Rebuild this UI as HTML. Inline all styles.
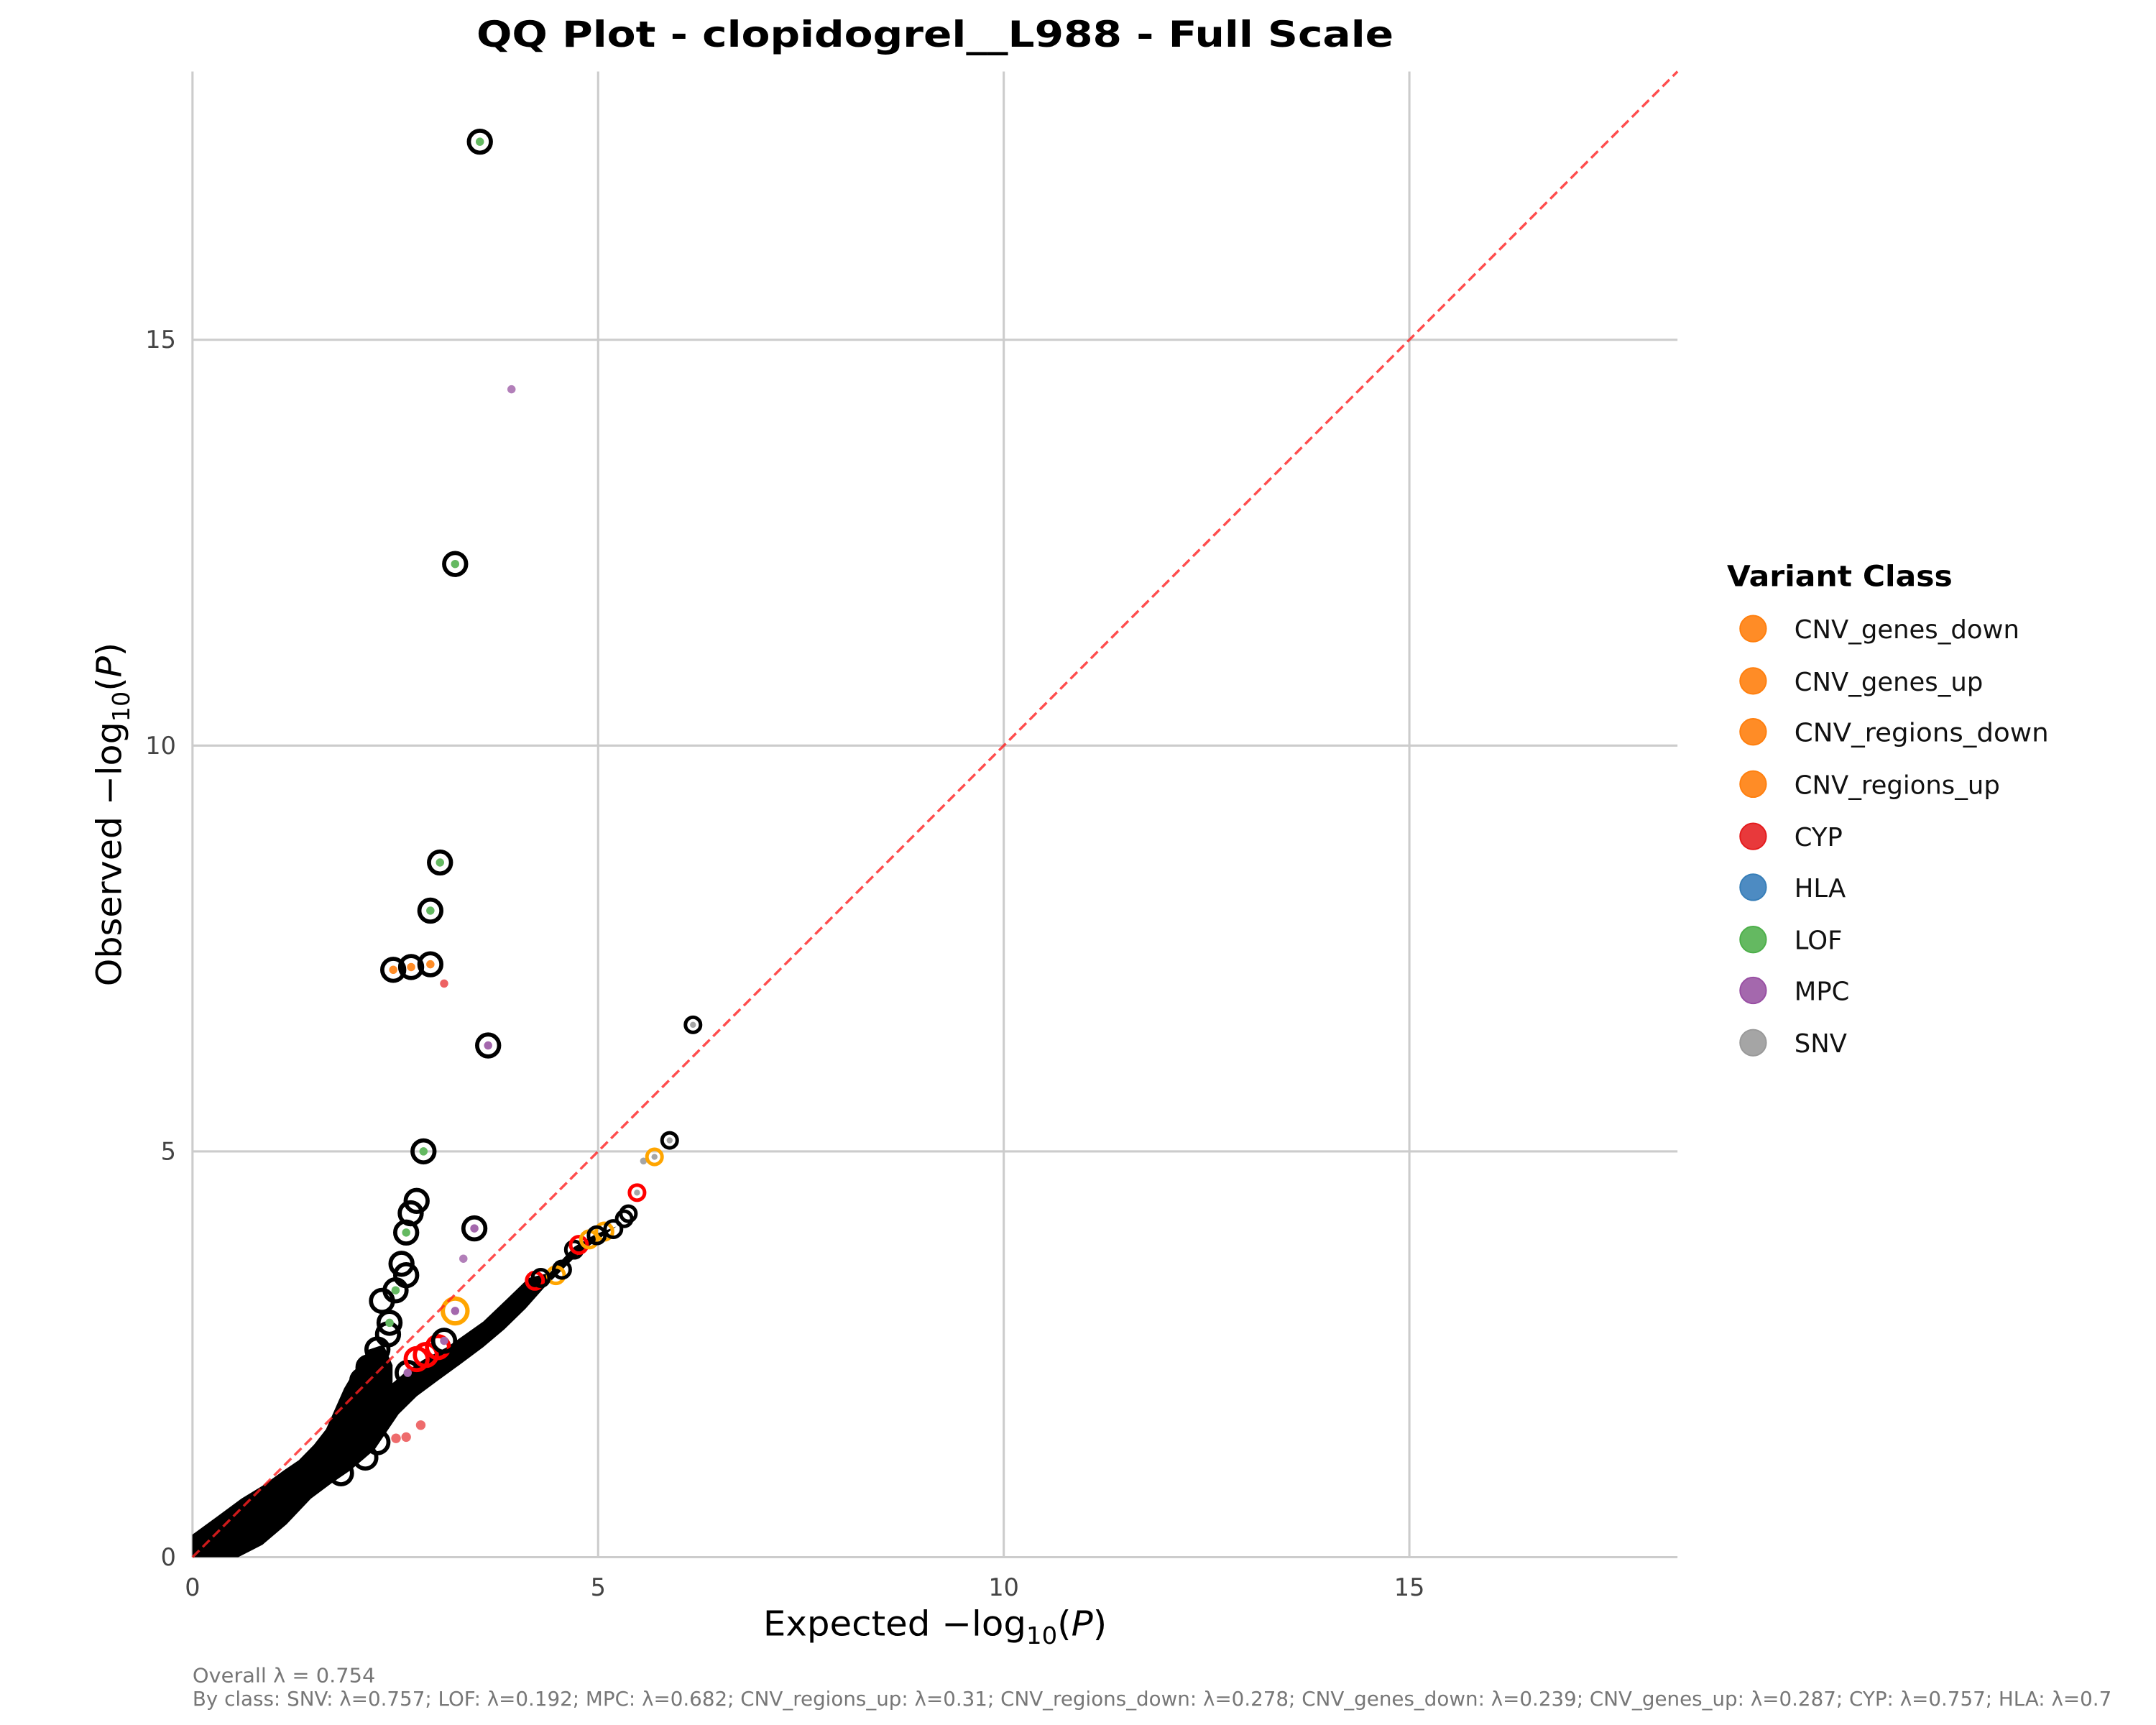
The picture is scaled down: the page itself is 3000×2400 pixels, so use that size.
<!DOCTYPE html>
<html><head><meta charset="utf-8"><style>html,body{margin:0;padding:0;background:#fff}svg{display:block}</style></head>
<body>
<svg width="3000" height="2400" viewBox="0 0 1568 1254" preserveAspectRatio="none" xmlns="http://www.w3.org/2000/svg" font-family="'DejaVu Sans','Liberation Sans',sans-serif">
<rect width="1568" height="1254" fill="#fff"/>
<!-- grid -->
<g stroke="#cccccc" stroke-width="1.6">
<line x1="435" y1="52" x2="435" y2="1132"/><line x1="730" y1="52" x2="730" y2="1132"/><line x1="1025" y1="52" x2="1025" y2="1132"/>
<line x1="140" y1="837" x2="1220" y2="837"/><line x1="140" y1="542" x2="1220" y2="542"/><line x1="140" y1="247" x2="1220" y2="247"/>
<line x1="140" y1="52" x2="140" y2="1132"/><line x1="140" y1="1132" x2="1220" y2="1132"/>
</g>
<!-- ticks -->
<g fill="#444" font-size="17.5">
<text x="128" y="1138" text-anchor="end">0</text><text x="128" y="843" text-anchor="end">5</text><text x="128" y="548" text-anchor="end">10</text><text x="128" y="253" text-anchor="end">15</text>
<text x="140" y="1160" text-anchor="middle">0</text><text x="435" y="1160" text-anchor="middle">5</text><text x="730" y="1160" text-anchor="middle">10</text><text x="1025" y="1160" text-anchor="middle">15</text>
</g>
<!-- blob -->
<polygon fill="#000" points="139.9,1132 173.3,1132 190.9,1123 208.5,1108 226.1,1089.5 241.5,1078 254.7,1069 272.3,1054 281.1,1041 289.9,1028 303.1,1015 318.5,1003.6 333.9,992.4 351.5,979.3 366.9,966.3 382.3,951.3 395.5,936.4 408.7,923.3 421.9,910.3 435.1,901 448.3,891.6 433,897.2 417.5,906.5 399.9,925.2 384.5,929 369.1,943.9 351.5,960.7 338.3,970 325.1,979.3 307.5,988.7 294.3,998 285.5,1005.5 285.5,992.4 278.9,977.5 267.9,981.2 259.1,994.3 250.3,1009.2 243.7,1024.1 237.1,1039 228.3,1050.3 217.3,1061.5 206.3,1069 190.9,1080.1 175.5,1089.5 157.9,1102.5 139.9,1115.6"/>
<!-- small dots -->
<g>
<circle cx="306" cy="1036" r="3.5" fill="#e8393b" opacity="0.75"/>
<circle cx="295.4" cy="1044.7" r="3.5" fill="#e8393b" opacity="0.75"/>
<circle cx="288" cy="1045.6" r="3.5" fill="#e8393b" opacity="0.75"/>
<circle cx="323" cy="715" r="3" fill="#e8393b" opacity="0.8"/>
<circle cx="372" cy="283" r="3" fill="#a468ad" opacity="0.85"/>
<circle cx="337" cy="915" r="3" fill="#a468ad" opacity="0.85"/>
<circle cx="468" cy="844" r="2.5" fill="#a5a5a5"/>
</g>
<!-- rings -->
<g fill="none" stroke="#000" stroke-width="3">
<circle cx="349" cy="103" r="8"/><circle cx="331" cy="410" r="8"/><circle cx="320" cy="627" r="8"/><circle cx="313" cy="662" r="8"/>
<circle cx="286" cy="705" r="8"/><circle cx="299" cy="703" r="8"/><circle cx="313" cy="701" r="8"/><circle cx="355" cy="760" r="8"/>
<circle cx="308" cy="837" r="8"/><circle cx="303" cy="873" r="8"/><circle cx="298.7" cy="882" r="8"/><circle cx="295.4" cy="896" r="8"/>
<circle cx="345" cy="893" r="8"/><circle cx="292" cy="918.7" r="8"/><circle cx="295.4" cy="927" r="8"/><circle cx="287.7" cy="938" r="8"/>
<circle cx="277.8" cy="945.7" r="8"/><circle cx="283.3" cy="961.6" r="8"/><circle cx="282.2" cy="970" r="8"/><circle cx="274.5" cy="981" r="8"/><circle cx="268" cy="994" r="8"/><circle cx="263.5" cy="1003.6" r="8"/>
<circle cx="274.5" cy="1048.4" r="8"/><circle cx="265.7" cy="1059.6" r="8"/><circle cx="248" cy="1071" r="8"/>
<circle cx="296.5" cy="998" r="8"/>
</g>
<g fill="none" stroke-width="3">
<circle cx="309.7" cy="985" r="8" stroke="#ff0000"/><circle cx="303" cy="988" r="8" stroke="#ff0000"/><circle cx="318.5" cy="979.3" r="8" stroke="#ff0000"/>
<circle cx="323" cy="974.7" r="8" stroke="#000"/>
</g>
<g fill="none" stroke-width="2.6">
<circle cx="389" cy="931" r="6" stroke="#ff0000"/>
<circle cx="404.3" cy="927" r="6" stroke="#ffa500"/>
<circle cx="393.3" cy="929" r="6" stroke="#000"/><circle cx="408.7" cy="923" r="6" stroke="#000"/>
<circle cx="417.5" cy="908.4" r="6" stroke="#000"/><circle cx="421" cy="905" r="6" stroke="#ff0000"/>
<circle cx="428.5" cy="901" r="6" stroke="#ffa500"/><circle cx="439.5" cy="895.3" r="6" stroke="#ffa500"/><circle cx="434" cy="898" r="6" stroke="#000"/>
<circle cx="446" cy="893.5" r="6" stroke="#000"/><circle cx="457" cy="882.3" r="5.5" stroke="#000"/><circle cx="454" cy="886" r="5.5" stroke="#000"/>
<circle cx="504" cy="745" r="5.5" stroke="#000"/><circle cx="487" cy="829" r="5.5" stroke="#000"/>
<circle cx="476" cy="841" r="5.5" stroke="#ffa500"/><circle cx="463.3" cy="867" r="5.5" stroke="#ff0000"/>
<circle cx="331" cy="953" r="9" stroke="#ffa500" stroke-width="3.2"/>
</g>
<g>
<circle cx="349" cy="103" r="3" fill="#64b961"/><circle cx="331" cy="410" r="3" fill="#64b961"/><circle cx="320" cy="627" r="3" fill="#64b961"/><circle cx="313" cy="662" r="3" fill="#64b961"/>
<circle cx="286" cy="705" r="3" fill="#ff8c26"/><circle cx="299" cy="703" r="3" fill="#ff8c26"/><circle cx="313" cy="701" r="3" fill="#ff8c26"/>
<circle cx="355" cy="760" r="3" fill="#a468ad"/><circle cx="308" cy="837" r="3" fill="#64b961"/><circle cx="345" cy="893" r="3" fill="#a468ad"/><circle cx="331" cy="953" r="3" fill="#a468ad"/>
<circle cx="295.4" cy="896" r="3" fill="#64b961"/><circle cx="287.7" cy="938" r="3" fill="#64b961"/><circle cx="283.3" cy="961.6" r="3" fill="#64b961"/>
<circle cx="323" cy="974.7" r="3" fill="#a468ad"/><circle cx="296.5" cy="998" r="3" fill="#a468ad"/>
<circle cx="504" cy="745" r="2.2" fill="#a5a5a5"/><circle cx="487" cy="829" r="2.2" fill="#a5a5a5"/><circle cx="476" cy="841" r="2.2" fill="#a5a5a5"/><circle cx="463.3" cy="867" r="2.2" fill="#a5a5a5"/>
</g>
<!-- diagonal -->
<line x1="140" y1="1132" x2="1220" y2="52" stroke="#ff2020" stroke-opacity="0.8" stroke-width="1.8" stroke-dasharray="7,3.5"/>
<!-- titles -->
<text x="680" y="34" text-anchor="middle" font-size="26" font-weight="bold" textLength="667" lengthAdjust="spacingAndGlyphs">QQ Plot - clopidogrel__L988 - Full Scale</text>
<text x="680" y="1189" text-anchor="middle" font-size="25" textLength="250" lengthAdjust="spacingAndGlyphs">Expected −log<tspan font-size="17" dy="6">10</tspan><tspan dy="-6">(</tspan><tspan font-style="italic">P</tspan>)</text>
<text transform="translate(88,592) rotate(-90)" text-anchor="middle" font-size="25" textLength="250" lengthAdjust="spacingAndGlyphs">Observed −log<tspan font-size="17" dy="6">10</tspan><tspan dy="-6">(</tspan><tspan font-style="italic">P</tspan>)</text>
<!-- legend -->
<text x="1256" y="426" font-size="21" font-weight="bold" textLength="164" lengthAdjust="spacingAndGlyphs">Variant Class</text>
<g font-size="18.5" fill="#111">
<circle cx="1275" cy="457" r="9.5" fill="#ff8c26" stroke="#ff7f0e"/><text x="1305" y="464">CNV_genes_down</text>
<circle cx="1275" cy="495" r="9.5" fill="#ff8c26" stroke="#ff7f0e"/><text x="1305" y="502">CNV_genes_up</text>
<circle cx="1275" cy="532" r="9.5" fill="#ff8c26" stroke="#ff7f0e"/><text x="1305" y="539" textLength="185" lengthAdjust="spacingAndGlyphs">CNV_regions_down</text>
<circle cx="1275" cy="570" r="9.5" fill="#ff8c26" stroke="#ff7f0e"/><text x="1305" y="577">CNV_regions_up</text>
<circle cx="1275" cy="608" r="9.5" fill="#e8393b" stroke="#e41a1c"/><text x="1305" y="615">CYP</text>
<circle cx="1275" cy="645" r="9.5" fill="#4d8bc2" stroke="#377eb8"/><text x="1305" y="652">HLA</text>
<circle cx="1275" cy="683" r="9.5" fill="#64b961" stroke="#4daf4a"/><text x="1305" y="690">LOF</text>
<circle cx="1275" cy="720" r="9.5" fill="#a468ad" stroke="#984ea3"/><text x="1305" y="727">MPC</text>
<circle cx="1275" cy="758" r="9.5" fill="#a5a5a5" stroke="#999"/><text x="1305" y="765">SNV</text>
</g>
<!-- footer -->
<g fill="#777" font-size="14.5">
<text x="140" y="1223" textLength="133" lengthAdjust="spacingAndGlyphs">Overall λ = 0.754</text>
<text x="140" y="1240">By class: SNV: λ=0.757; LOF: λ=0.192; MPC: λ=0.682; CNV_regions_up: λ=0.31; CNV_regions_down: λ=0.278; CNV_genes_down: λ=0.239; CNV_genes_up: λ=0.287; CYP: λ=0.757; HLA: λ=0.7</text>
</g>
</svg>
</body></html>
